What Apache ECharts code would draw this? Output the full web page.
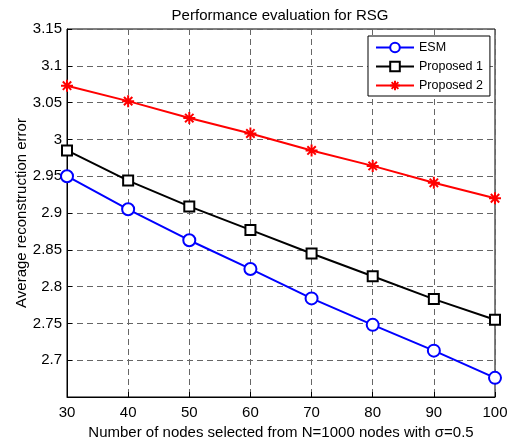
<!DOCTYPE html>
<html>
<head>
<meta charset="utf-8">
<script src="https://cdn.jsdelivr.net/npm/echarts@6/dist/echarts.min.js"></script>
<style>
html,body{margin:0;padding:0;background:#fff;}
#chart{width:524px;height:447px;}
</style>
</head>
<body>
<div id="chart"></div>
<script>
const categories = [30, 40, 50, 60, 70, 80, 90, 100];
const esm = [2.950, 2.905, 2.863, 2.824, 2.784, 2.748, 2.713, 2.676];
const proposed1 = [2.985, 2.944, 2.909, 2.877, 2.845, 2.814, 2.783, 2.755];
const proposed2 = [3.073, 3.052, 3.029, 3.008, 2.985, 2.964, 2.941, 2.920];
const seriesNames = ['ESM', 'Proposed 1', 'Proposed 2'];
const titleText = 'Performance evaluation for RSG';
const xLabel = 'Number of nodes selected from N=1000 nodes with \u03c3=0.5';
const yLabel = 'Average reconstruction error';

const FONT = 'Liberation Sans, Arial, Helvetica, sans-serif';
const star = 'path://M0,5 L10,5 M5,0 L5,10 M1.5,1.5 L8.5,8.5 M8.5,1.5 L1.5,8.5';

function pairs(arr){ return categories.map((x,i)=>[x, arr[i]]); }

const chart = echarts.init(document.getElementById('chart'), null, {renderer:'canvas'});
chart.setOption({
  animation: false,
  backgroundColor: '#fff',
  textStyle: {fontFamily: FONT},
  title: {
    text: titleText,
    left: 275, top: 3, textAlign: 'center',
    textStyle: {fontFamily: FONT, fontSize: 15, fontWeight: 'normal', color: '#000'}
  },
  grid: {
    left: 67, right: 29, top: 29, bottom: 50,
    show: true, borderColor: '#000', borderWidth: 1, backgroundColor: 'transparent'
  },
  legend: {
    orient: 'vertical',
    left: 368, top: 36,
    width: 120,
    padding: [5, 7, 4, 7],
    itemGap: 6,
    itemWidth: 38, itemHeight: 12,
    backgroundColor: '#fff',
    borderColor: '#000', borderWidth: 1,
    textStyle: {fontFamily: FONT, fontSize: 12.5, color: '#000'},
    data: seriesNames
  },
  xAxis: {
    type: 'value', min: 30, max: 100, interval: 10,
    name: xLabel, nameLocation: 'middle', nameGap: 28, nameMoveOverlap: false,
    nameTextStyle: {fontFamily: FONT, fontSize: 15, color: '#000'},
    axisLine: {lineStyle: {color: '#000', width: 1}},
    axisTick: {inside: true, length: 5, lineStyle: {color: '#000'}},
    axisLabel: {fontFamily: FONT, fontSize: 15, color: '#000', margin: 8},
    splitLine: {show: true, lineStyle: {color: '#666', type: [6, 4], width: 1}}
  },
  yAxis: {
    type: 'value', min: 2.65, max: 3.15, interval: 0.05,
    name: yLabel, nameLocation: 'middle', nameGap: 38, nameRotate: 90, nameMoveOverlap: false,
    nameTextStyle: {fontFamily: FONT, fontSize: 15, color: '#000'},
    axisLine: {lineStyle: {color: '#000', width: 1}},
    axisTick: {inside: true, length: 5, lineStyle: {color: '#000'}},
    axisLabel: {
      fontFamily: FONT, fontSize: 15, color: '#000', margin: 5,
      formatter: function(v){ if (Math.abs(v-2.65) < 1e-6) return ''; return String(parseFloat(v.toFixed(2))); }
    },
    splitLine: {show: true, lineStyle: {color: '#666', type: [6, 4], width: 1}}
  },
  series: [
    {
      name: seriesNames[0], type: 'line', data: pairs(esm),
      symbol: 'emptyCircle', symbolSize: 12,
      lineStyle: {color: '#0000ff', width: 2},
      itemStyle: {color: '#0000ff', borderColor: '#0000ff', borderWidth: 2}
    },
    {
      name: seriesNames[1], type: 'line', data: pairs(proposed1),
      symbol: 'emptyRect', symbolSize: 10,
      lineStyle: {color: '#000', width: 2},
      itemStyle: {color: '#000', borderColor: '#000', borderWidth: 2}
    },
    {
      name: seriesNames[2], type: 'line', data: pairs(proposed2),
      symbol: star, symbolSize: 12,
      lineStyle: {color: '#ff0000', width: 2},
      itemStyle: {color: 'rgba(0,0,0,0)', borderColor: '#ff0000', borderWidth: 2}
    }
  ]
});
</script>
</body>
</html>
